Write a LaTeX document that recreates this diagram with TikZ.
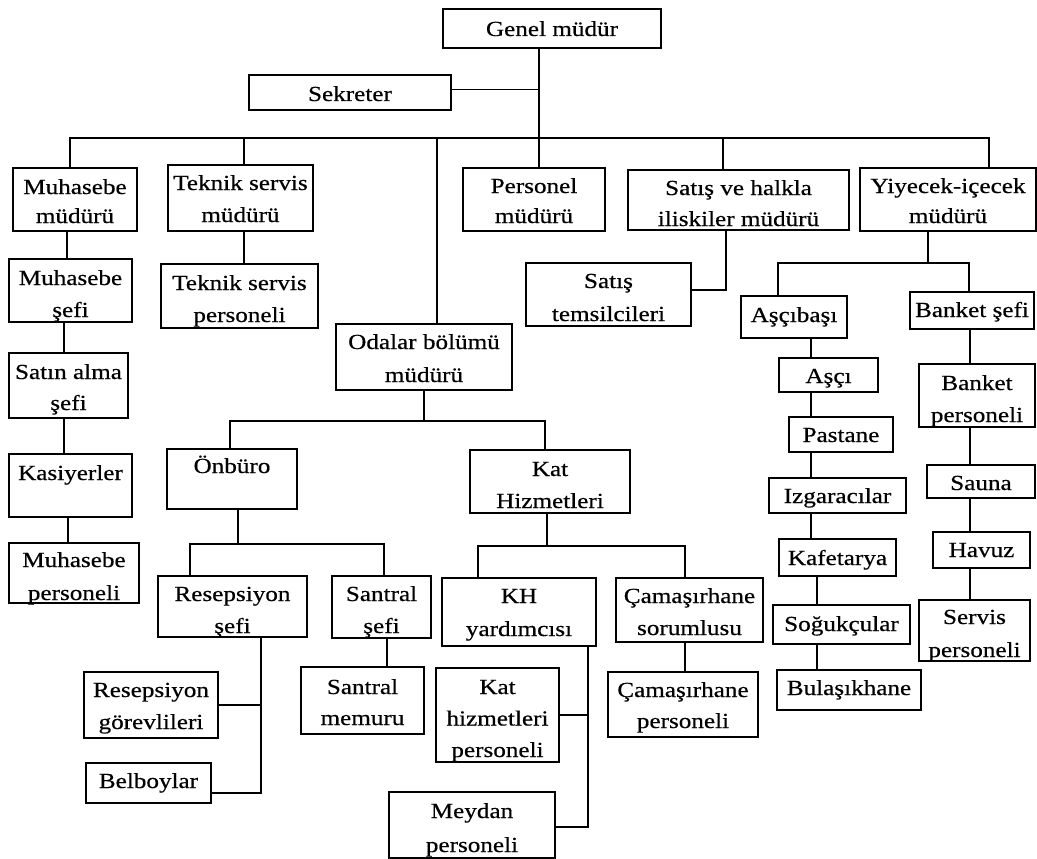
\documentclass[tikz,border=0pt]{standalone}
\usepackage{fontspec}
\setmainfont{Liberation Serif}[FakeStretch=1.17, FakeBold=0.5]

\tikzset{
  ob/.style={draw, rectangle, line width=1.3pt, inner sep=0pt, outer sep=0pt},
  ot/.style={anchor=base, inner sep=0pt, outer sep=0pt, font=\fontsize{21.5}{32}\selectfont},
  con/.style={line width=1.3pt, line cap=rect}
}

% #1 name, #2-#5 corners (left, top, right, bottom), #6 first baseline below the top edge, #7 text
\newcommand\orgbox[7]{%
  \node[ob, minimum width={(#4-#2)*1pt}, minimum height={(#5-#3)*1pt}] (#1) at ({(#2+#4)/2},{(#3+#5)/2}) {};
  \node[ot] (#1-t) at ([yshift={-(#6)*1pt}]#1.north) {\begin{tabular}[t]{@{}c@{}}#7\end{tabular}};
}

\begin{document}
\begin{tikzpicture}[x=1pt,y=-1pt]
\fill[white] (0,0) rectangle (1037,859);
\useasboundingbox (0,0) rectangle (1037,859);

% management level
\orgbox{genel}{443}{9}{661}{48}{27}{Genel müdür}
\orgbox{sek}{249}{75}{451}{110}{26}{Sekreter}
\orgbox{muh}{13}{168}{137}{231}{26}{Muhasebe\\[-3pt]müdürü}
\orgbox{tek}{168}{165}{313}{231}{25}{Teknik servis\\müdürü}
\orgbox{pers}{463}{168}{605}{231}{25}{Personel\\[-2pt]müdürü}
\orgbox{satis}{628}{170}{849}{230}{25}{Satış ve halkla\\[-1pt]iliskiler müdürü}
\orgbox{yiy}{860}{168}{1036}{231}{25}{Yiyecek-içecek\\[-2pt]müdürü}

% accounting
\orgbox{mse}{9}{259}{132}{322}{26}{Muhasebe\\şefi}
\orgbox{satin}{9}{353}{128}{418}{26}{Satın alma\\[-1pt]şefi}
\orgbox{kas}{9}{454}{132}{517}{26}{Kasiyerler}
\orgbox{mper}{9}{543}{139}{603}{24}{Muhasebe\\[1pt]personeli}

% technical service
\orgbox{tper}{161}{264}{318}{328}{26}{Teknik servis\\personeli}

% rooms division
\orgbox{odalar}{336}{324}{512}{390}{25}{Odalar bölümü\\[1pt]müdürü}
\orgbox{onb}{167}{449}{297}{509}{24}{Önbüro}
\orgbox{kat}{470}{450}{630}{513}{26}{Kat\\Hizmetleri}
\orgbox{resef}{158}{576}{307}{637}{25}{Resepsiyon\\şefi}
\orgbox{santsef}{332}{576}{431}{638}{25}{Santral\\şefi}
\orgbox{resgor}{84}{672}{218}{738}{25}{Resepsiyon\\görevlileri}
\orgbox{bel}{86}{763}{211}{803}{25}{Belboylar}
\orgbox{santmem}{301}{667}{424}{734}{27}{Santral\\[-1pt]memuru}
\orgbox{khy}{442}{578}{596}{646}{25}{KH\\[1pt]yardımcısı}
\orgbox{camsor}{616}{578}{763}{642}{25}{Çamaşırhane\\sorumlusu}
\orgbox{kper}{436}{668}{559}{762}{26}{Kat\\[-0.5pt]hizmetleri\\[-0.5pt]personeli}
\orgbox{meydan}{389}{792}{555}{858}{26}{Meydan\\[2pt]personeli}
\orgbox{camper}{608}{672}{758}{737}{25}{Çamaşırhane\\[-1pt]personeli}

% sales
\orgbox{stem}{526}{263}{691}{326}{25}{Satış\\[1pt]temsilcileri}

% food and beverage
\orgbox{asb}{741}{296}{847}{338}{26}{Aşçıbaşı}
\orgbox{banket}{910}{292}{1034}{329}{25}{Banket şefi}
\orgbox{asci}{779}{358}{878}{392}{25}{Aşçı}
\orgbox{past}{789}{417}{893}{452}{25}{Pastane}
\orgbox{izg}{769}{478}{906}{513}{25}{Izgaracılar}
\orgbox{kafe}{779}{539}{896}{576}{26}{Kafetarya}
\orgbox{sog}{773}{605}{910}{644}{26}{Soğukçular}
\orgbox{bul}{777}{670}{921}{710}{25}{Bulaşıkhane}
\orgbox{bper}{919}{364}{1035}{427}{26}{Banket\\personeli}
\orgbox{sauna}{927}{465}{1035}{498}{25}{Sauna}
\orgbox{havuz}{933}{532}{1030}{568}{25}{Havuz}
\orgbox{servis}{919}{600}{1030}{661}{24}{Servis\\[1pt]personeli}

% ---- connectors ----
% general manager and the main bus
\coordinate (gx) at (539,138);
\coordinate (b1) at (70,138);
\coordinate (b2) at (244,138);
\coordinate (b3) at (437,138);
\coordinate (b5) at (723,138);
\coordinate (b6) at (989,138);
\draw[con] (b1) -- (b6);
\draw[con] (genel.south -| gx) -- (pers.north -| gx);
\path ([yshift=3pt]sek.east) coordinate (sk);
\draw[con] (sk) -- (sk -| gx);
\draw[con] (b1) -- (muh.north -| b1);
\draw[con] (b2) -- (tek.north -| b2);
\draw[con] (b3) -- (odalar.north -| b3);
\draw[con] (b5) -- (satis.north -| b5);
\draw[con] (b6) -- (yiy.north -| b6);

% accounting chain
\coordinate (xa) at (67,0);
\coordinate (xb) at (64,0);
\coordinate (xc) at (68,0);
\draw[con] (muh.south -| xa) -- (mse.north -| xa);
\draw[con] (mse.south -| xb) -- (satin.north -| xb);
\draw[con] (satin.south -| xb) -- (kas.north -| xb);
\draw[con] (kas.south -| xc) -- (mper.north -| xc);

% technical service
\draw[con] (tek.south -| b2) -- (tper.north -| b2);

% rooms division
\coordinate (o1) at (424,421);
\coordinate (oL) at (230,421);
\coordinate (oR) at (545,421);
\draw[con] (odalar.south -| o1) -- (o1);
\draw[con] (oL) -- (oR);
\draw[con] (oL) -- (onb.north -| oL);
\draw[con] (oR) -- (kat.north -| oR);

% front office
\coordinate (f1) at (238,544);
\coordinate (fL) at (190,544);
\coordinate (fR) at (384,544);
\draw[con] (onb.south -| f1) -- (f1);
\draw[con] (fL) -- (fR);
\draw[con] (fL) -- (resef.north -| fL);
\draw[con] (fR) -- (santsef.north -| fR);
\coordinate (rb) at (261,793);
\draw[con] (resef.south -| rb) -- (rb) -- (bel.east |- rb);
\draw[con] (resgor.east) -- (resgor.east -| rb);
\coordinate (sx) at (387,0);
\draw[con] (santsef.south -| sx) -- (santmem.north -| sx);

% housekeeping
\coordinate (k1) at (547,546);
\coordinate (kL) at (478,546);
\coordinate (kR) at (685,546);
\draw[con] (kat.south -| k1) -- (k1);
\draw[con] (kL) -- (kR);
\draw[con] (kL) -- (khy.north -| kL);
\draw[con] (kR) -- (camsor.north -| kR);
\draw[con] (camsor.south -| kR) -- (camper.north -| kR);
\coordinate (hb) at (588,827);
\draw[con] (khy.south -| hb) -- (hb) -- (meydan.east |- hb);
\draw[con] (kper.east) -- (kper.east -| hb);

% sales
\coordinate (sb) at (726,290);
\draw[con] (satis.south -| sb) -- (sb) -- (stem.east |- sb);

% food and beverage
\coordinate (y1) at (928,263);
\coordinate (yL) at (778,263);
\coordinate (yR) at (969,263);
\draw[con] (yiy.south -| y1) -- (y1);
\draw[con] (yL) -- (yR);
\draw[con] (yL) -- (asb.north -| yL);
\draw[con] (yR) -- (banket.north -| yR);
\coordinate (xk) at (811,0);
\coordinate (xs) at (817,0);
\draw[con] (asb.south -| xk) -- (asci.north -| xk);
\draw[con] (asci.south -| xk) -- (past.north -| xk);
\draw[con] (past.south -| xk) -- (izg.north -| xk);
\draw[con] (izg.south -| xk) -- (kafe.north -| xk);
\draw[con] (kafe.south -| xs) -- (sog.north -| xs);
\draw[con] (sog.south -| xs) -- (bul.north -| xs);
\coordinate (xq) at (970,0);
\draw[con] (banket.south -| xq) -- (bper.north -| xq);
\draw[con] (bper.south -| xq) -- (sauna.north -| xq);
\draw[con] (sauna.south -| xq) -- (havuz.north -| xq);
\draw[con] (havuz.south -| xq) -- (servis.north -| xq);
\end{tikzpicture}
\end{document}
